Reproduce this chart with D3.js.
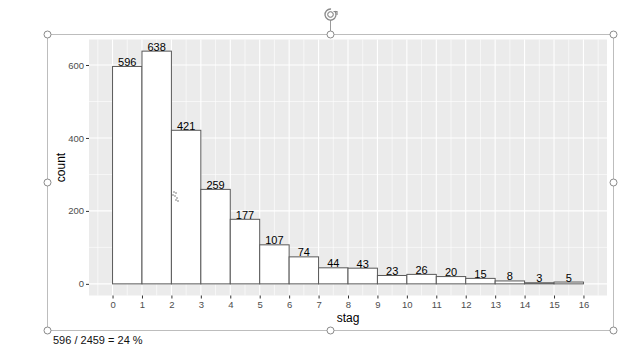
<!DOCTYPE html>
<html>
<head>
<meta charset="utf-8">
<script src="https://cdn.jsdelivr.net/npm/d3@7"></script>
<style>
  body { margin: 0; background: #fff; }
  svg { display: block; font-family: "Liberation Sans", Arial, sans-serif; }
</style>
</head>
<body>
<svg id="chart" width="640" height="360"></svg>
<script>
const WIDTH = 640
const HEIGHT = 360

// histogram bins of stag (bin start) and counts
const binStarts = [0, 1, 2, 3, 4, 5, 6, 7, 8, 9, 10, 11, 12, 13, 14, 15]
const counts = [596, 638, 421, 259, 177, 107, 74, 44, 43, 23, 26, 20, 15, 8, 3, 5]
const xTicks = [0, 1, 2, 3, 4, 5, 6, 7, 8, 9, 10, 11, 12, 13, 14, 15, 16]
const yTicks = [0, 200, 400, 600]
const yMinor = [100, 300, 500]
const footnote = '596 / 2459 = 24 %'

const svg = d3.select('#chart')
const panel = { left: 89, right: 607, top: 39.5, bottom: 295.5 }

// ggplot style 5% expansion
const xMax = d3.max(xTicks)
const xPad = xMax * 0.05
const yTop = d3.max(counts)
const yPad = yTop * 0.05

const x = d3.scaleLinear()
    .domain([-xPad, xMax + xPad])
    .range([panel.left, panel.right])

const y = d3.scaleLinear()
    .domain([-yPad, yTop + yPad])
    .range([panel.bottom, panel.top])

// panel background
svg.append('rect')
    .attr('x', panel.left)
    .attr('y', panel.top)
    .attr('width', panel.right - panel.left)
    .attr('height', panel.bottom - panel.top)
    .attr('fill', '#ebebeb')

const xMinor = d3.range(-0.5, xMax + 1, 1).filter(d => d > -xPad && d < xMax + xPad)

// minor grid
svg.append('g')
    .selectAll('line.vminor')
    .data(xMinor)
    .join('line')
    .attr('x1', d => x(d)).attr('x2', d => x(d))
    .attr('y1', panel.top).attr('y2', panel.bottom)
    .attr('stroke', '#fff').attr('stroke-width', 0.6)
svg.append('g')
    .selectAll('line.hminor')
    .data(yMinor)
    .join('line')
    .attr('x1', panel.left).attr('x2', panel.right)
    .attr('y1', d => y(d)).attr('y2', d => y(d))
    .attr('stroke', '#fff').attr('stroke-width', 0.6)

// major grid
svg.append('g')
    .selectAll('line')
    .data(xTicks)
    .join('line')
    .attr('x1', d => x(d)).attr('x2', d => x(d))
    .attr('y1', panel.top).attr('y2', panel.bottom)
    .attr('stroke', '#fff').attr('stroke-width', 1.1)
svg.append('g')
    .selectAll('line')
    .data(yTicks)
    .join('line')
    .attr('x1', panel.left).attr('x2', panel.right)
    .attr('y1', d => y(d)).attr('y2', d => y(d))
    .attr('stroke', '#fff').attr('stroke-width', 1.1)

// bars
svg.append('g')
    .selectAll('rect')
    .data(binStarts)
    .join('rect')
    .attr('x', (d) => x(d))
    .attr('y', (d, i) => y(counts[i]))
    .attr('width', (d) => x(d + 1) - x(d))
    .attr('height', (d, i) => y(0) - y(counts[i]))
    .attr('fill', '#fff')
    .attr('stroke', '#595959')
    .attr('stroke-width', 1)

// count labels
svg.append('g')
    .selectAll('text')
    .data(binStarts)
    .join('text')
    .attr('x', d => x(d + 0.5))
    .attr('y', (d, i) => y(counts[i]) - 0.5)
    .attr('text-anchor', 'middle')
    .attr('font-size', 11)
    .attr('fill', '#000')
    .text((d, i) => counts[i])

// axes
const xAxis = svg.append('g')
    .attr('transform', `translate(0, ${panel.bottom})`)
    .call(d3.axisBottom(x).tickValues(xTicks).tickSize(3).tickPadding(3))
const yAxis = svg.append('g')
    .attr('transform', `translate(${panel.left}, 0)`)
    .call(d3.axisLeft(y).tickValues(yTicks).tickSize(3).tickPadding(2))

for (const g of [xAxis, yAxis]) {
    g.select('.domain').remove()
    g.selectAll('.tick line').attr('stroke', '#333')
    g.selectAll('.tick text')
        .attr('fill', '#4d4d4d')
        .attr('font-size', 9.5)
        .attr('font-family', '"Liberation Sans", Arial, sans-serif')
}

// axis titles
svg.append('text')
    .text('stag')
    .attr('x', (panel.left + panel.right) / 2)
    .attr('y', 322)
    .attr('text-anchor', 'middle')
    .attr('font-size', 12)

svg.append('text')
    .text('count')
    .attr('transform', `translate(65, ${(panel.top + panel.bottom) / 2}) rotate(-90)`)
    .attr('text-anchor', 'middle')
    .attr('font-size', 12)

// selection frame around the pasted picture
const frame = { left: 47.5, right: 613.5, top: 34.5, bottom: 330.5 }
svg.append('rect')
    .attr('x', frame.left)
    .attr('y', frame.top)
    .attr('width', frame.right - frame.left)
    .attr('height', frame.bottom - frame.top)
    .attr('fill', 'none')
    .attr('stroke', '#bdbdbd')
    .attr('stroke-width', 1)

const midX = (frame.left + frame.right) / 2
const midY = (frame.top + frame.bottom) / 2

// rotate handle
svg.append('line')
    .attr('x1', midX).attr('x2', midX)
    .attr('y1', 20).attr('y2', frame.top)
    .attr('stroke', '#9a9a9a')
svg.append('path')
    .attr('d', d3.arc()({ innerRadius: 5.5, outerRadius: 5.5, startAngle: 0.9, endAngle: 2 * Math.PI + 0.1 }))
    .attr('transform', `translate(${midX}, 14.5)`)
    .attr('fill', 'none')
    .attr('stroke', '#8a8a8a')
    .attr('stroke-width', 1.3)
svg.append('path')
    .attr('d', d3.arc()({ innerRadius: 2.8, outerRadius: 2.8, startAngle: 0, endAngle: 2 * Math.PI }))
    .attr('transform', `translate(${midX}, 14.5)`)
    .attr('fill', 'none')
    .attr('stroke', '#9a9a9a')
    .attr('stroke-width', 1)
svg.append('path')
    .attr('d', `M${midX + 3},${11.5} l3.5,0 l0,3.5`)
    .attr('fill', 'none')
    .attr('stroke', '#8a8a8a')
    .attr('stroke-width', 1.2)

const handles = [
    [frame.left, frame.top], [midX, frame.top], [frame.right, frame.top],
    [frame.left, midY], [frame.right, midY],
    [frame.left, frame.bottom], [midX, frame.bottom], [frame.right, frame.bottom]
]
svg.append('g')
    .selectAll('circle')
    .data(handles)
    .join('circle')
    .attr('cx', d => d[0])
    .attr('cy', d => d[1])
    .attr('r', 3.5)
    .attr('fill', '#fff')
    .attr('stroke', '#8a8a8a')
    .attr('stroke-width', 1)

// move cursor dots
svg.append('g')
    .selectAll('circle')
    .data([[174, 192], [176, 193], [173, 195], [175, 196], [177, 198], [176, 200], [178, 201]])
    .join('circle')
    .attr('cx', d => d[0]).attr('cy', d => d[1]).attr('r', 0.7)
    .attr('fill', '#555')

// footnote
svg.append('text')
    .text(footnote)
    .attr('x', 53)
    .attr('y', 344)
    .attr('font-size', 11)
    .attr('fill', '#111')
</script>
</body>
</html>
